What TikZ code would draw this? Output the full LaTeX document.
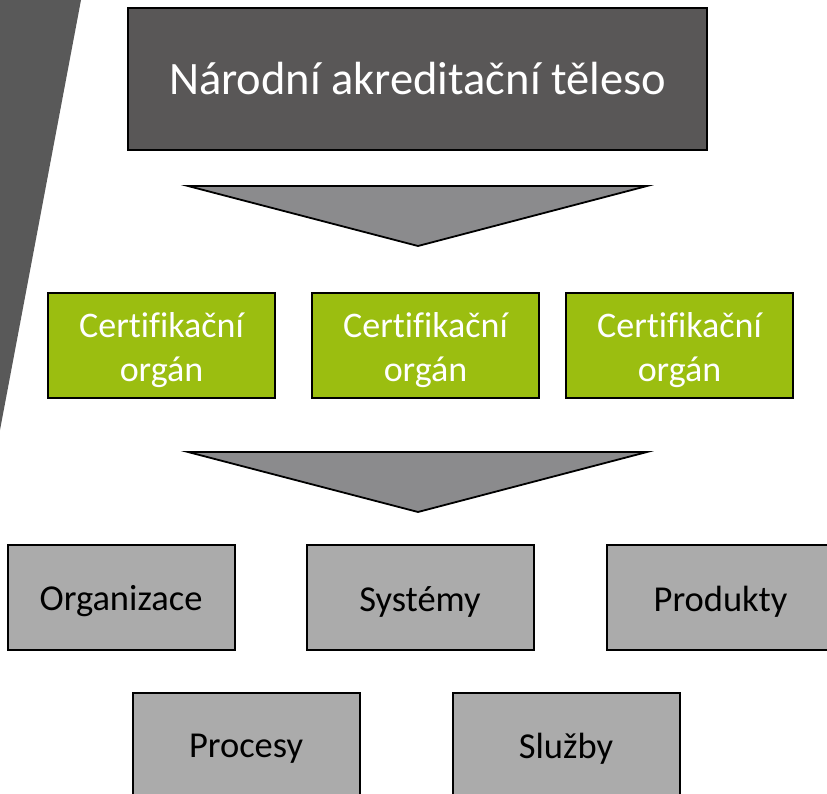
\documentclass[tikz,border=0pt]{standalone}
\usepackage{fontspec}
\setmainfont[Ligatures=NoCommon]{Carlito}
\definecolor{darkbox}{HTML}{595757}
\definecolor{arrowgray}{HTML}{8B8B8D}
\definecolor{certgreen}{HTML}{9BBE10}
\definecolor{itemgray}{HTML}{ABABAB}
\definecolor{slant}{HTML}{595959}
\begin{document}
\begin{tikzpicture}[x=1pt,y=-1pt,
  boxbase/.style={draw=black, line width=2pt, rectangle, inner sep=0pt, align=center},
  topbox/.style={boxbase, fill=darkbox, text=white, minimum width=579pt, minimum height=142pt, font=\fontsize{46.5}{52}\selectfont},
  certbox/.style={boxbase, fill=certgreen, minimum width=227pt, minimum height=105pt},
  certtext/.style={text=white, align=center, inner sep=0pt, font=\fontsize{36}{44}\selectfont, yshift=-5pt},
  itembox/.style={boxbase, fill=itemgray, minimum width=227pt, minimum height=105pt},
  itemtext/.style={text=black, inner sep=0pt, font=\fontsize{36.5}{42}\selectfont, yshift=-4pt},
  tri/.style={draw=black, line width=1.8pt, fill=arrowgray, line join=miter}
]
\useasboundingbox (0,0) rectangle (827,794);
\clip (0,0) rectangle (827,794);
\fill[slant] (0,0) -- (81,0) -- (0,430) -- cycle;
\node[topbox] (nat) at (417.5,79) {Národní akreditační těleso};
\draw[tri] (188,186) -- (647,186) -- (418,246) -- cycle;
\node[certbox, label={[certtext]center:{Certifikační\\orgán}}] (c1) at (161.5,345.5) {};
\node[certbox, label={[certtext]center:{Certifikační\\orgán}}] (c2) at (425.5,345.5) {};
\node[certbox, label={[certtext]center:{Certifikační\\orgán}}] (c3) at (679.5,345.5) {};
\draw[tri] (188,452) -- (647,452) -- (418,512) -- cycle;
\node[itembox, label={[itemtext]center:Organizace}] (org) at (121,597.5) {};
\node[itembox, label={[itemtext]center:Systémy}] (sys) at (420,597.5) {};
\node[itembox, label={[itemtext]center:Produkty}] (prod) at (720.5,597.5) {};
\node[itembox, label={[itemtext]center:Procesy}] (proc) at (246,745) {};
\node[itembox, label={[itemtext]center:Služby}] (sluz) at (566,745) {};
\end{tikzpicture}
\end{document}
